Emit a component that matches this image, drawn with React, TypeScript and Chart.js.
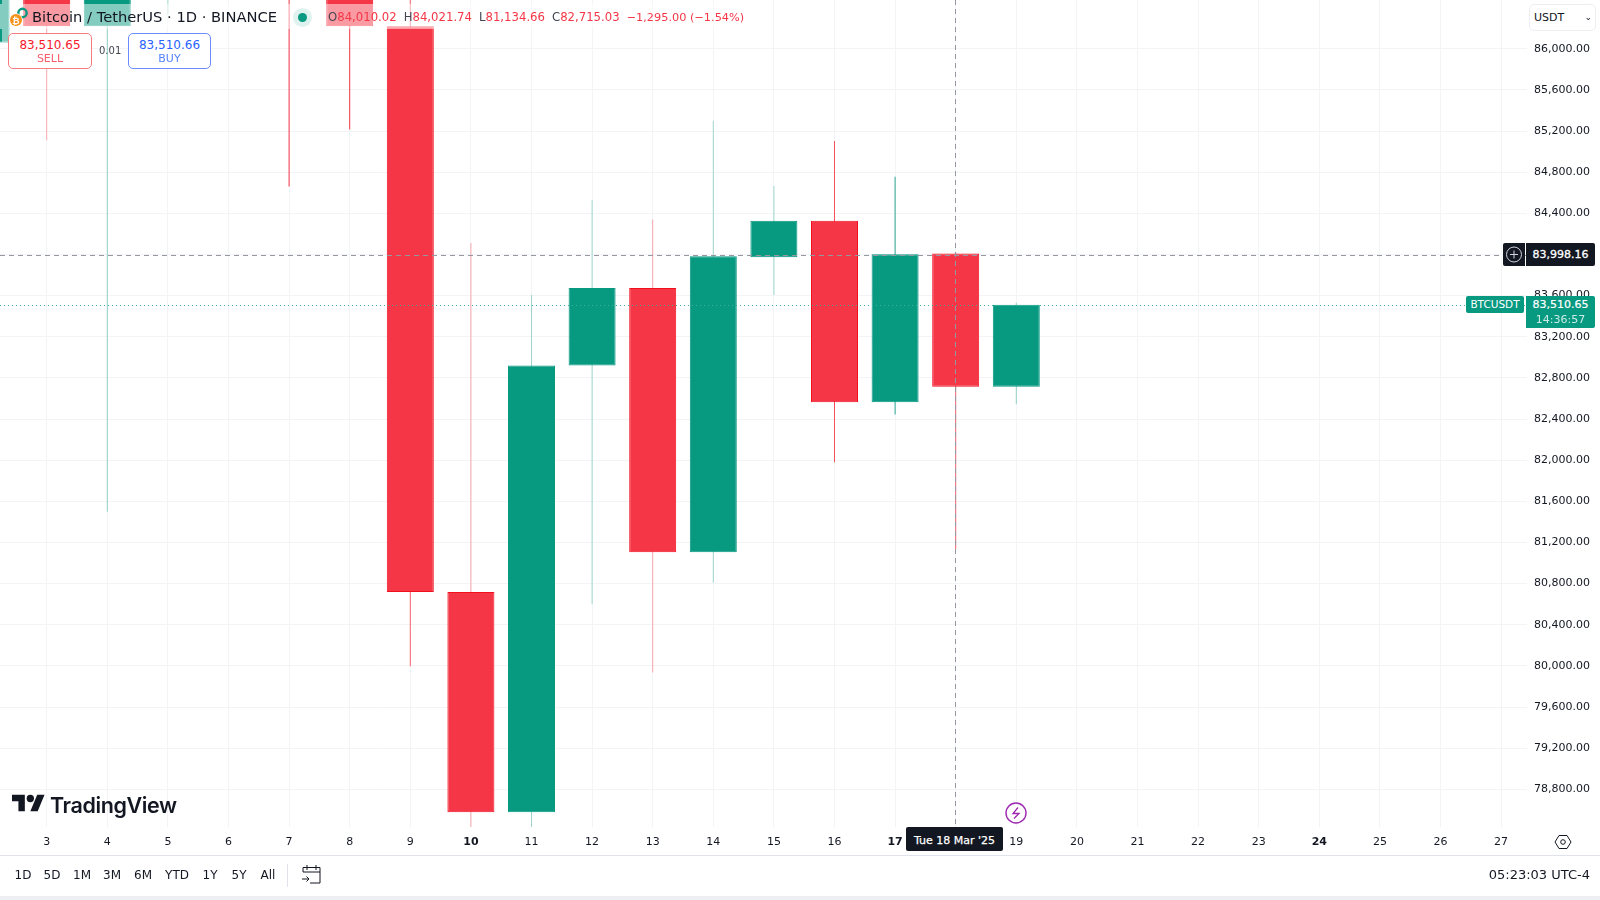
import React, { useEffect, useRef } from "react";
import { Chart, registerables } from "chart.js";

Chart.register(...registerables);

const days = [2, 3, 4, 5, 7, 8, 9, 10, 11, 12, 13, 14, 15, 16, 17, 18, 19];
const opens = [86900, 86900, 86218, 86700, 87300, 86800, 86218, 80719, 78578, 82921, 83675, 81106, 83972, 84329, 82564, 84010.02, 82715.03];
const closes = [86062, 86218, 86900, 87000, 86700, 86218, 80719, 78578, 82921, 83675, 81106, 83982, 84329, 82564, 84002, 82715.03, 83510.65];
const highs = [87000, 87000, 87000, 87100, 87400, 86900, 86600, 84111, 83605, 84527, 84339, 85301, 84666, 85103, 84755, 84021.74, 83530];
const lows = [85900, 85110, 81500, 86334, 84660, 85215, 79996, 78425, 78425, 80600, 79936, 80808, 83605, 81979, 82445, 81134.66, 82544];
const rising = [true, false, true, true, false, false, false, false, true, true, false, true, true, false, true, false, true];
const wickColors = ["#089981", "#f8aab1", "#8fcfc4", "#a6d9d0", "#f23645", "#f23645", "#f4616d", "#f8a5ac", "#9dd5cb", "#9dd5cb", "#f8a5ac", "#9dd5cb", "#9dd5cb", "#f4505e", "#2aa490", "#f4616d", "#8fcfc4"];

const dayTicks = [3, 4, 5, 6, 7, 8, 9, 10, 11, 12, 13, 14, 15, 16, 17, 18, 19, 20, 21, 22, 23, 24, 25, 26, 27];
const boldDays = [10, 17, 24];
const priceTicks = [78800, 79200, 79600, 80000, 80400, 80800, 81200, 81600, 82000, 82400, 82800, 83200, 83600, 84000, 84400, 84800, 85200, 85600, 86000];
const crosshairPrice = 83998.16;
const crosshairDay = 18;
const lastPrice = 83510.65;
const rangeButtons = ["1D", "5D", "1M", "3M", "6M", "YTD", "1Y", "5Y", "All"];
const rangeCenters = [23, 52, 82, 112, 143, 177, 210, 239, 268];

const GREEN = "#089981";
const RED = "#F43647";
const RED_EDGE = "#f2101f";
const FONT = "'DejaVu Sans', sans-serif";

const abs = (style: React.CSSProperties): React.CSSProperties => ({ position: "absolute", whiteSpace: "nowrap", ...style });

const overlayLines = {
  id: "overlayLines",
  afterDatasetsDraw(chart: any) {
    const { ctx, chartArea: a, scales } = chart;
    const yc = Math.round(scales.y.getPixelForValue(crosshairPrice)) + 0.5;
    const yl = Math.round(scales.y.getPixelForValue(lastPrice)) + 0.5;
    const xc = Math.floor(scales.x.getPixelForValue(crosshairDay)) + 0.5;
    ctx.save();
    ctx.lineWidth = 1;
    ctx.strokeStyle = "#3fb09d";
    ctx.setLineDash([1, 3]);
    ctx.beginPath(); ctx.moveTo(a.left, yl); ctx.lineTo(a.right, yl); ctx.stroke();
    ctx.strokeStyle = "#9598a1";
    ctx.setLineDash([5, 4]);
    ctx.beginPath(); ctx.moveTo(a.left, yc); ctx.lineTo(a.right, yc); ctx.stroke();
    ctx.beginPath(); ctx.moveTo(xc, a.top); ctx.lineTo(xc, a.bottom); ctx.stroke();
    ctx.restore();
  },
};

export default function App() {
  const ref = useRef<HTMLCanvasElement>(null);
  useEffect(() => {
    document.body.style.margin = "0";
    const chart = new Chart(ref.current!, {
      type: "bar",
      data: {
        datasets: [
          {
            label: "Wicks",
            order: 2,
            data: days.map((d, i) => ({ x: d, y: [lows[i], highs[i]] })) as any,
            backgroundColor: wickColors,
            barThickness: 1,
            inflateAmount: 0,
            grouped: false,
          } as any,
          {
            label: "Bodies",
            order: 1,
            data: days.map((d, i) => ({ x: d, y: [opens[i], closes[i]] })) as any,
            backgroundColor: rising.map((r) => (r ? GREEN : RED)),
            borderColor: rising.map((r) => (r ? GREEN : RED_EDGE)),
            borderWidth: 1,
            borderSkipped: false,
            barThickness: 47,
            inflateAmount: 0,
            grouped: false,
          } as any,
        ],
      },
      options: {
        responsive: false,
        animation: false,
        layout: { padding: { left: 0, right: 0, top: 0, bottom: 45 } },
        plugins: { legend: { display: false }, tooltip: { enabled: false } },
        scales: {
          x: {
            type: "linear",
            offset: false,
            min: 2.2294,
            max: 27.4274,
            afterBuildTicks: (s: any) => { s.ticks = dayTicks.map((v) => ({ value: v })); },
            afterFit: (s: any) => { s.height = 28; s.paddingLeft = 0; s.paddingRight = 0; },
            grid: { color: "#f3f4f6", drawTicks: false, offset: false },
            border: { display: false },
            ticks: {
              autoSkip: false,
              maxRotation: 0,
              padding: 9,
              color: "#131722",
              font: (c: any) => ({ family: FONT, size: 11, weight: boldDays.includes(c.tick?.value) ? "bold" : "normal" }),
              callback: (v: any) => (v === crosshairDay ? "" : String(v)),
            },
          },
          y: {
            position: "right",
            min: 78434,
            max: 86474,
            afterBuildTicks: (s: any) => { s.ticks = priceTicks.map((v) => ({ value: v })); },
            afterFit: (s: any) => { s.width = 73; s.paddingTop = 0; s.paddingBottom = 0; },
            grid: { color: "#f3f4f6", drawTicks: false },
            border: { display: false },
            ticks: {
              autoSkip: false,
              padding: 7,
              color: "#131722",
              font: { family: FONT, size: 11 },
              callback: (v: any) =>
                v === 84000 ? "" : Number(v).toLocaleString("en-US", { minimumFractionDigits: 2, maximumFractionDigits: 2 }),
            },
          },
        },
      },
      plugins: [overlayLines],
    } as any);
    return () => chart.destroy();
  }, []);

  const ohlc: [string, string][] = [["O", "84,010.02"], ["H", "84,021.74"], ["L", "81,134.66"], ["C", "82,715.03"]];

  return (
    <div style={{ position: "fixed", left: 0, top: 0, width: 1600, height: 900, background: "#fff", overflow: "hidden", fontFamily: FONT, color: "#131722" }}>
      <canvas ref={ref} width={1600} height={900} style={{ position: "absolute", left: 0, top: 0, display: "block" }} />

      {/* legend wash */}
      <div style={abs({ left: 0, top: 4, width: 760, height: 25, background: "rgba(255,255,255,0.5)" })} />
      <div style={abs({ left: 2, top: 0, width: 9, height: 4, background: "rgba(255,255,255,0.5)" })} />
      <div style={abs({ left: 2, top: 29, width: 9, height: 13, background: "rgba(255,255,255,0.5)" })} />
      <svg width="32" height="24" style={{ position: "absolute", left: 6, top: 3 }}>
        <circle cx="16.5" cy="10" r="4.2" fill="none" stroke="#089981" strokeWidth="2.4" />
        <circle cx="10" cy="17" r="6.8" fill="#fff" />
        <circle cx="10" cy="17" r="6" fill="#f7931a" />
        <text x="10" y="20.5" fontSize="9" fontFamily="Liberation Sans" fontWeight="bold" fill="#fff" textAnchor="middle">₿</text>
      </svg>
      <div style={abs({ left: 32, top: 7, fontSize: 14.7, lineHeight: "20px" })}>Bitcoin / TetherUS · 1D · BINANCE</div>
      <div style={abs({ left: 293, top: 8, width: 19, height: 19, borderRadius: 10, background: "rgba(8,153,129,0.13)" })} />
      <div style={abs({ left: 298, top: 13, width: 9, height: 9, borderRadius: 5, background: GREEN })} />
      <div style={abs({ left: 328, top: 9, fontSize: 11.7, lineHeight: "16px", color: RED })}>
        {ohlc.map(([k, v]) => (
          <span key={k} style={{ marginRight: 7 }}><span style={{ color: "#434651" }}>{k}</span>{v}</span>
        ))}
        <span style={{ fontSize: 11.3 }}>−1,295.00 (−1.54%)</span>
      </div>

      {/* trade buttons */}
      <div style={abs({ left: 8, top: 33, width: 84, height: 36, boxSizing: "border-box", background: "#fff", border: "1px solid #f77c80", borderRadius: 5, textAlign: "center", color: RED })}>
        <div style={{ fontSize: 12, lineHeight: "14px", marginTop: 4, color: "#f7182c" }}>83,510.65</div>
        <div style={{ fontSize: 11, lineHeight: "13px", opacity: 0.8 }}>SELL</div>
      </div>
      <div style={abs({ left: 99, top: 44, fontSize: 10, lineHeight: "13px", color: "#434651" })}>0.01</div>
      <div style={abs({ left: 128, top: 33, width: 83, height: 36, boxSizing: "border-box", background: "#fff", border: "1px solid #6a8cff", borderRadius: 5, textAlign: "center", color: "#2962ff" })}>
        <div style={{ fontSize: 12, lineHeight: "14px", marginTop: 4 }}>83,510.66</div>
        <div style={{ fontSize: 11, lineHeight: "13px", opacity: 0.8 }}>BUY</div>
      </div>

      {/* currency */}
      <div style={abs({ left: 1529, top: 4, width: 67, height: 27, boxSizing: "border-box", background: "#fff", border: "1px solid #eceef2", borderRadius: 5, fontSize: 11, lineHeight: "25px", paddingLeft: 4 })}>
        USDT
        <span style={{ position: "absolute", right: 3, top: 0, fontSize: 9 }}>⌄</span>
      </div>

      {/* crosshair price */}
      <div style={abs({ left: 1503, top: 243, width: 22, height: 23, background: "#131722", borderRadius: "2px 0 0 2px" })}>
        <svg width="22" height="23"><circle cx="11" cy="11.5" r="7.5" fill="none" stroke="#d1d4dc" /><path d="M7 11.5h8M11 7.5v8" stroke="#d1d4dc" /></svg>
      </div>
      <div style={abs({ left: 1526, top: 243, width: 69, height: 23, background: "#131722", borderRadius: "0 2px 2px 0", color: "#fff", fontSize: 11, lineHeight: "23px", WebkitTextStroke: "0.3px #fff", textAlign: "center" })}>83,998.16</div>

      {/* last price */}
      <div style={abs({ left: 1466, top: 296, width: 58, height: 17, background: GREEN, borderRadius: 2, color: "#fff", fontSize: 10.5, lineHeight: "17px", textAlign: "center" })}>BTCUSDT</div>
      <div style={abs({ left: 1526, top: 296, width: 69, height: 32, background: GREEN, borderRadius: "0 2px 2px 0", color: "#fff", fontSize: 11, lineHeight: "15px", textAlign: "center" })}>
        <div style={{ WebkitTextStroke: "0.2px #fff", marginTop: 1 }}>83,510.65</div>
        <div style={{ opacity: 0.8 }}>14:36:57</div>
      </div>

      {/* watermark */}
      <svg width="33" height="26" viewBox="0 0 36 28" style={{ position: "absolute", left: 12, top: 791 }}>
        <path d="M14 22H7V11H0V4h14v18zM28 22h-8l7.5-18h8L28 22z" fill="#131722" /><circle cx="20" cy="8" r="4" fill="#131722" />
      </svg>
      <div style={abs({ left: 50, top: 790, fontFamily: "Inter", fontWeight: 600, fontSize: 21.5, lineHeight: "30px", letterSpacing: -0.4 })}>TradingView</div>

      {/* event icon */}
      <svg width="24" height="24" style={{ position: "absolute", left: 1004, top: 801 }}>
        <circle cx="12" cy="12" r="10" fill="#fff" stroke="#9c27b0" strokeWidth="1.4" />
        <path d="M14 6.5 9 12.5h6L10 17.5" fill="none" stroke="#9c27b0" strokeWidth="1.3" />
      </svg>

      {/* crosshair time */}
      <div style={abs({ left: 906, top: 827, width: 97, height: 24, background: "#131722", borderRadius: 2, color: "#fff", fontSize: 11, WebkitTextStroke: "0.25px #fff", lineHeight: "28px", textAlign: "center" })}>Tue 18 Mar '25</div>

      {/* settings */}
      <svg width="18" height="18" style={{ position: "absolute", left: 1554, top: 833 }}>
        <path d="M5 2.5h8L17 9l-4 6.5H5L1 9z" fill="none" stroke="#131722" />
        <circle cx="9" cy="9" r="2.3" fill="none" stroke="#131722" />
      </svg>

      {/* bottom bar */}
      <div style={abs({ left: 0, top: 855, width: 1600, height: 1, background: "#e0e3eb" })} />
      {rangeButtons.map((b, i) => (
        <div key={b} style={abs({ left: rangeCenters[i] - 20, width: 40, top: 866, fontSize: 12, lineHeight: "18px", textAlign: "center" })}>{b}</div>
      ))}
      <div style={abs({ left: 287, top: 864, width: 1, height: 23, background: "#e0e3eb" })} />
      <svg width="22" height="22" style={{ position: "absolute", left: 301, top: 864 }}>
        <path d="M2 8V3.5h17V19H9M2 8h17M6 1v5M15 1v5M1 15h7M5.5 12.5 8 15l-2.5 2.5" fill="none" stroke="#131722" />
      </svg>
      <div style={abs({ right: 10, top: 866, fontSize: 13, lineHeight: "18px" })}>05:23:03 UTC-4</div>
      <div style={abs({ left: 0, top: 896, width: 1600, height: 4, background: "#eeeff2" })} />
    </div>
  );
}
